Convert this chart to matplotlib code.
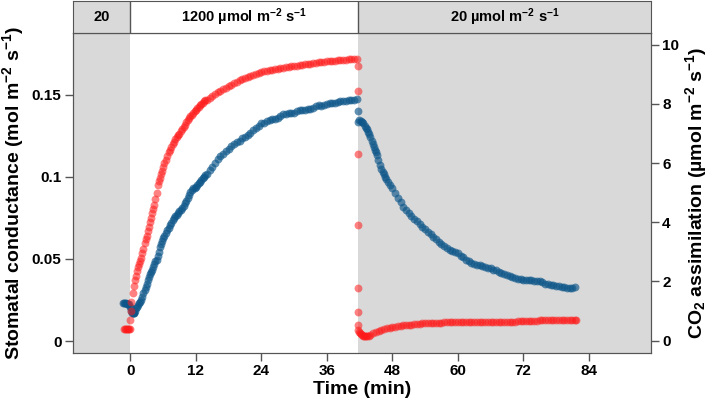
import matplotlib
matplotlib.use("Agg")
from matplotlib import pyplot as plt

plt.rcParams['font.family'] = ['Liberation Sans', 'DejaVu Sans']
plt.rcParams['font.weight'] = 'bold'
plt.rcParams['mathtext.fontset'] = 'custom'
plt.rcParams['mathtext.rm'] = 'Liberation Sans:bold'
plt.rcParams['mathtext.bf'] = 'Liberation Sans:bold'
plt.rcParams['mathtext.it'] = 'Liberation Sans:bold'

# light switch (min)
t_switch = 41.7

a_pre_t = [-1.2, -1.0, -0.8, -0.6, -0.4, -0.2, -0.1]
a_pre = [0.40, 0.40, 0.40, 0.40, 0.40, 0.40, 0.40]

a_rise_t = [0.0, 0.1, 0.2, 0.4, 0.6, 0.8, 1.0, 1.2, 1.4, 1.6, 1.8, 2.0, 2.2, 2.4, 2.6, 2.8,
            3.0, 3.2, 3.4, 3.6, 3.8, 4.0, 4.2, 4.4, 4.6, 4.8, 5.0, 5.2, 5.4, 5.6, 5.8, 6.0,
            6.25, 6.5, 6.75, 7.0, 7.25, 7.5, 7.75, 8.0, 8.25, 8.5, 8.75, 9.0, 9.25, 9.5, 9.75,
            10.0, 10.25, 10.5, 10.75, 11.0, 11.25, 11.5, 11.75, 12.0, 12.25, 12.5, 12.75, 13.0,
            13.25, 13.5, 13.75, 14.0]
a_rise = [0.70, 1.0, 1.3, 1.6, 1.85, 2.05, 2.2, 2.35, 2.5, 2.58, 2.68, 2.8, 2.95, 3.1, 3.3, 3.45,
          3.55, 3.7, 3.85, 4.0, 4.15, 4.33, 4.45, 4.6, 4.8, 5.0, 5.25, 5.38, 5.5, 5.62, 5.75, 5.88,
          6.0, 6.12, 6.25, 6.36, 6.46, 6.55, 6.64, 6.72, 6.8, 6.87, 6.94, 7.0, 7.08, 7.15, 7.23,
          7.3, 7.38, 7.45, 7.52, 7.58, 7.64, 7.7, 7.75, 7.8, 7.85, 7.9, 7.95, 8.0,
          8.05, 8.1, 8.12, 8.15]

a_high_t = [14.5, 15, 15.5, 16, 16.5, 17, 17.5, 18, 18.5, 19, 19.5, 20, 20.5, 21, 21.5, 22,
            22.5, 23, 23.5, 24, 24.5, 25, 25.5, 26, 26.5, 27, 27.5, 28, 28.5, 29, 29.5, 30,
            30.5, 31, 31.5, 32, 32.5, 33, 33.5, 34, 34.5, 35, 35.5, 36, 36.5, 37, 37.5, 38,
            38.5, 39, 39.5, 40, 40.5, 41, 41.5]
a_high = [8.21, 8.27, 8.34, 8.4, 8.45, 8.5, 8.55, 8.6, 8.65, 8.7, 8.75, 8.8, 8.84, 8.88, 8.92, 8.95,
          8.99, 9.02, 9.05, 9.07, 9.1, 9.12, 9.14, 9.16, 9.18, 9.19, 9.21, 9.22, 9.24, 9.25, 9.27, 9.28,
          9.3, 9.31, 9.33, 9.34, 9.35, 9.36, 9.38, 9.39, 9.41, 9.42, 9.43, 9.44, 9.45, 9.46, 9.47, 9.48,
          9.49, 9.49, 9.5, 9.51, 9.51, 9.52, 9.52]

a_drop_t = [41.7, 41.7, 41.7, 41.7, 41.7, 41.7, 41.7, 41.8, 41.9, 42.0, 42.2, 42.4, 42.6, 42.8,
            43.0, 43.2, 43.4, 43.7, 44.0, 44.5, 45.0, 45.5, 46.0, 46.5, 47.0, 47.5, 48.0, 48.5,
            49.0, 49.5, 50.0, 50.5, 51.0, 51.5, 52.0, 52.5, 53.0, 53.5, 54.0, 54.5, 55.0, 55.5,
            56.0, 56.5, 57.0, 57.5, 58.0, 58.5, 59.0, 59.5]
a_drop = [9.3, 8.45, 6.3, 3.9, 1.77, 0.95, 0.53, 0.35, 0.3, 0.25, 0.22, 0.19, 0.17, 0.16,
          0.15, 0.14, 0.14, 0.15, 0.18, 0.24, 0.29, 0.33, 0.37, 0.40, 0.42, 0.44, 0.46, 0.475,
          0.49, 0.50, 0.51, 0.52, 0.53, 0.54, 0.55, 0.56, 0.57, 0.58, 0.59, 0.595, 0.60, 0.60,
          0.60, 0.605, 0.61, 0.615, 0.62, 0.62, 0.62, 0.625]

a_low_t = [60, 60.5, 61, 61.5, 62, 62.5, 63, 63.5, 64, 64.5, 65, 65.5, 66, 66.5, 67, 67.5, 68,
           68.5, 69, 69.5, 70, 70.5, 71, 71.5, 72, 72.5, 73, 73.5, 74, 74.5, 75, 75.5, 76, 76.5,
           77, 77.5, 78, 78.5, 79, 79.5, 80, 80.5, 81, 81.5, 81.7]
a_low = [0.63, 0.63, 0.63, 0.62, 0.62, 0.63, 0.63, 0.64, 0.64, 0.63, 0.63, 0.63, 0.63, 0.64, 0.64,
         0.63, 0.63, 0.64, 0.64, 0.64, 0.64, 0.645, 0.65, 0.65, 0.65, 0.655, 0.66, 0.665, 0.67,
         0.675, 0.68, 0.68, 0.68, 0.685, 0.69, 0.695, 0.70, 0.70, 0.70, 0.705, 0.71, 0.705, 0.70,
         0.71, 0.71]

# ---- stomatal conductance (blue, left axis) ----
g_pre_t = [-1.4, -1.2, -1.0, -0.8, -0.6, -0.4, -0.2]
g_pre = [0.023, 0.023, 0.023, 0.023, 0.0228, 0.0226, 0.0225]

g_rise_t = [0.0, 0.1, 0.2, 0.3, 0.4, 0.5, 0.6, 0.7, 0.8, 1.0, 1.2, 1.4, 1.6, 1.8, 2.0, 2.2,
            2.4, 2.6, 2.8, 3.0, 3.2, 3.4, 3.6, 3.8, 4.0, 4.2, 4.4, 4.6, 4.8, 5.0, 5.2, 5.4, 5.6,
            5.8, 6.0, 6.25, 6.5, 6.75, 7.0, 7.25, 7.5, 7.75, 8.0, 8.25, 8.5, 8.75, 9.0, 9.25,
            9.5, 9.75, 10.0, 10.25, 10.5, 10.75, 11.0, 11.25, 11.5, 11.75, 12.0, 12.25, 12.5,
            12.75, 13.0, 13.25, 13.5, 13.75, 14.0]
g_rise = [0.021, 0.020, 0.018, 0.0172, 0.017, 0.0168, 0.0168, 0.0172, 0.018, 0.020, 0.021, 0.022,
          0.023, 0.0235, 0.025, 0.027, 0.029, 0.031, 0.033, 0.035, 0.037, 0.039, 0.041, 0.042,
          0.043, 0.045, 0.047, 0.0485, 0.0494, 0.052, 0.054, 0.057, 0.059, 0.061, 0.0625, 0.064,
          0.066, 0.0675, 0.069, 0.0705, 0.072, 0.0735, 0.075, 0.076, 0.077, 0.078, 0.079, 0.080,
          0.081, 0.0825, 0.084, 0.0855, 0.087, 0.089, 0.091, 0.092, 0.093, 0.0935, 0.094, 0.095,
          0.096, 0.097, 0.098, 0.099, 0.100, 0.101, 0.102]

g_high_t = [14.5, 15, 15.5, 16, 16.5, 17, 17.5, 18, 18.5, 19, 19.5, 20, 20.5, 21, 21.5, 22,
            22.5, 23, 23.5, 24, 24.5, 25, 25.5, 26, 26.5, 27, 27.5, 28, 28.5, 29, 29.5, 30,
            30.5, 31, 31.5, 32, 32.5, 33, 33.5, 34, 34.5, 35, 35.5, 36, 36.5, 37, 37.5, 38,
            38.5, 39, 39.5, 40, 40.5, 41, 41.5]
g_high = [0.104, 0.106, 0.1085, 0.111, 0.1125, 0.114, 0.1155, 0.117, 0.1185, 0.120, 0.121, 0.122,
          0.1235, 0.124, 0.1255, 0.127, 0.1285, 0.130, 0.131, 0.1325, 0.133, 0.134, 0.1345, 0.135,
          0.1355, 0.136, 0.137, 0.138, 0.1385, 0.139, 0.139, 0.139, 0.140, 0.1405, 0.141, 0.141,
          0.1412, 0.1415, 0.142, 0.143, 0.1435, 0.143, 0.1435, 0.1445, 0.145, 0.145, 0.1452,
          0.1455, 0.146, 0.146, 0.1462, 0.1465, 0.1468, 0.147, 0.1475]

g_drop_t = [41.7, 41.75, 41.9, 42.2, 42.5, 42.7, 43.0, 43.2, 43.4, 43.6, 43.8, 44.0, 44.2, 44.4,
            44.6, 44.8, 45.0, 45.2, 45.45, 45.7, 45.95, 46.2, 46.4, 46.6, 46.9, 47.2, 47.6, 48.0,
            48.5, 49.0, 49.5, 50.0, 50.5, 51.0, 51.5, 52.0, 52.5, 53.0, 53.5, 54.0, 54.5, 55.0,
            55.5, 56.0, 56.5, 57.0, 57.5, 58.0, 58.5, 59.0, 59.5]
g_drop = [0.140, 0.1337, 0.1345, 0.134, 0.1333, 0.1327, 0.131, 0.130, 0.129, 0.1276, 0.126, 0.124,
          0.122, 0.120, 0.118, 0.1165, 0.115, 0.113, 0.110, 0.1073, 0.105, 0.103, 0.1015, 0.0998,
          0.0985, 0.097, 0.095, 0.0931, 0.090, 0.087, 0.0845, 0.0819, 0.080, 0.078, 0.076, 0.0745,
          0.0728, 0.071, 0.0695, 0.068, 0.0665, 0.065, 0.0635, 0.062, 0.0605, 0.059, 0.0578,
          0.0565, 0.0555, 0.055, 0.054]

g_low_t = [60, 60.5, 61, 61.5, 62, 62.5, 63, 63.5, 64, 64.5, 65, 65.5, 66, 66.5, 67, 67.5, 68,
           68.5, 69, 69.5, 70, 70.5, 71, 71.5, 72, 72.5, 73, 73.5, 74, 74.5, 75, 75.5, 76, 76.5,
           77, 77.5, 78, 78.5, 79, 79.5, 80, 80.5, 81, 81.5]
g_low = [0.0535, 0.052, 0.051, 0.0495, 0.0485, 0.0475, 0.047, 0.0465, 0.0463, 0.0455, 0.045,
         0.0447, 0.0443, 0.0435, 0.043, 0.042, 0.0415, 0.041, 0.040, 0.0394, 0.0388, 0.0384,
         0.038, 0.0376, 0.0372, 0.0371, 0.037, 0.0369, 0.0368, 0.0367, 0.0365, 0.0358, 0.035,
         0.0346, 0.0343, 0.0339, 0.0335, 0.0333, 0.033, 0.0326, 0.0322, 0.0322, 0.0323, 0.0327]

t_a = a_pre_t + a_rise_t + a_high_t + a_drop_t + a_low_t
a_vals = a_pre + a_rise + a_high + a_drop + a_low
t_g = g_pre_t + g_rise_t + g_high_t + g_drop_t + g_low_t
gs_vals = g_pre + g_rise + g_high + g_drop + g_low

x_ticks = [0, 12, 24, 36, 48, 60, 72, 84]
gs_ticks = [0, 0.05, 0.1, 0.15]
gs_labels = ['0', '0.05', '0.1', '0.15']
a_ticks = [0, 2, 4, 6, 8, 10]

band_labels = ['20', r'1200 µmol m$^{-2}$ s$^{-1}$', r'20 µmol m$^{-2}$ s$^{-1}$']

xlim = (-10.6, 95.4)
grey = '#d9d9d9'
edge = '#555555'

fig = plt.figure(figsize=(7.09, 4.08), dpi=100)
ax = fig.add_axes([0.1023, 0.1348, 0.8159, 0.7843])
band = fig.add_axes([0.1023, 0.919, 0.8159, 0.0785])

# shaded low light periods
ax.axvspan(xlim[0], 0, color=grey, lw=0, zorder=0)
ax.axvspan(t_switch, xlim[1], color=grey, lw=0, zorder=0)

ax.scatter(t_g, gs_vals, s=32, color='#0d5689', alpha=0.65, linewidths=0, zorder=3)
ax.set_xlim(xlim)
ax.set_ylim(-0.0073, 0.1876)
ax.set_xticks(x_ticks)
ax.set_yticks(gs_ticks)
ax.set_yticklabels(gs_labels)
ax.set_xlabel('Time (min)', fontsize=14, fontweight='bold', labelpad=2)
ax.set_ylabel(r'Stomatal conductance (mol m$^{-2}$ s$^{-1}$)', fontsize=14,
              fontweight='bold', labelpad=4)

ax2 = ax.twinx()
ax2.scatter(t_a, a_vals, s=32, color='#ff1a1a', alpha=0.55, linewidths=0, zorder=3)
ax2.set_ylim(-0.42, 10.4)
ax2.set_yticks(a_ticks)
ax2.set_ylabel(r'CO$_2$ assimilation (µmol m$^{-2}$ s$^{-1}$)', fontsize=14,
               fontweight='bold', labelpad=3)

for a in (ax, ax2):
    a.tick_params(labelsize=11, length=6, width=1, color=edge, pad=2)
    for sp in a.spines.values():
        sp.set_color(edge)
    for lab in a.get_xticklabels() + a.get_yticklabels():
        lab.set_fontweight('bold')

# light treatment band on top
band.set_xlim(xlim)
band.set_ylim(0, 1)
band.axvspan(xlim[0], 0, color=grey, lw=0)
band.axvspan(t_switch, xlim[1], color=grey, lw=0)
band.axvline(0, color=edge, lw=1)
band.axvline(t_switch, color=edge, lw=1)
band.set_xticks([])
band.set_yticks([])
for sp in band.spines.values():
    sp.set_color(edge)
centers = [(xlim[0] + 0) / 2, t_switch / 2, (t_switch + xlim[1]) / 2]
for c, lab in zip(centers, band_labels):
    band.text(c, 0.5, lab, ha='center', va='center', fontsize=10.5, fontweight='bold')

plt.savefig('out.png', dpi=100)
